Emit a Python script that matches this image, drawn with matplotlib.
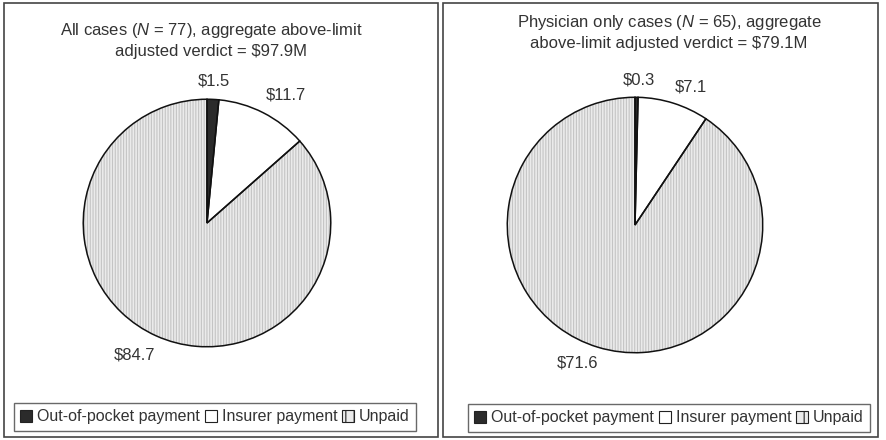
import matplotlib
matplotlib.use("Agg")
import matplotlib.pyplot as plt
from matplotlib.patches import Rectangle, Patch

plt.rcParams["font.family"] = "Liberation Sans"
plt.rcParams["mathtext.fontset"] = "custom"
plt.rcParams["mathtext.rm"] = "Liberation Sans"
plt.rcParams["mathtext.it"] = "Liberation Sans:italic"
plt.rcParams["hatch.linewidth"] = 0.8

categories = ["Out-of-pocket payment", "Insurer payment", "Unpaid"]
all_values = [1.5, 11.7, 84.7]
phys_values = [0.3, 7.1, 71.6]
all_title = "All cases ($\\mathit{N}$ = 77), aggregate above-limit\nadjusted verdict = \\$97.9M"
phys_title = "Physician only cases ($\\mathit{N}$ = 65), aggregate\nabove-limit adjusted verdict = \\$79.1M"

colors = ["#2b2b2b", "#ffffff", "#ebebeb"]
text_color = "#333333"
W, H = 887, 440

fig = plt.figure(figsize=(W / 100, H / 100), dpi=100)


def px(x, y, w, h):
    # pixel box (top-left origin) -> figure fraction
    return [x / W, 1 - (y + h) / H, w / W, h / H]


def draw_panel(x0, x1, cx, cy, r, values, title, title_x, title_y, label_dist,
               nudges, leg_x, leg_y):
    fig.patches.append(Rectangle((x0 / W, 1 - 437 / H), (x1 - x0) / W, 434 / H,
                                 transform=fig.transFigure, fill=False,
                                 edgecolor="#444444", linewidth=1.2))
    ax = fig.add_axes(px(cx - r, cy - r, 2 * r, 2 * r))
    labels = ["$%.1f" % v for v in values]
    wedges, texts = ax.pie(values, colors=colors, startangle=90, counterclock=False,
                           labels=labels, labeldistance=label_dist,
                           wedgeprops=dict(linewidth=0),
                           textprops=dict(fontsize=12, color=text_color,
                                          ha="center", va="center"))
    # small label shifts (pixels) to follow the original's best-fit placement
    for t, (dx, dy) in zip(texts, nudges):
        x, y = t.get_position()
        t.set_position((x + dx / r, y - dy / r))
    wedges[2].set_hatch("||||||")
    wedges[2].set_edgecolor("#c4c4c4")
    ax.pie(values, startangle=90, counterclock=False,
           wedgeprops=dict(fill=False, edgecolor="#111111", linewidth=1.1))
    ax.set_xlim(-1.01, 1.01)
    ax.set_ylim(-1.01, 1.01)
    ax.set_aspect("equal")
    fig.text(title_x / W, 1 - title_y / H, title, ha="center", va="top",
             fontsize=12, color=text_color, linespacing=1.3)
    handles = [Patch(facecolor=colors[0], edgecolor="#222222", linewidth=0.8),
               Patch(facecolor=colors[1], edgecolor="#222222", linewidth=0.8),
               Patch(facecolor=colors[2], edgecolor="#222222", linewidth=0.8, hatch="||")]
    leg = fig.legend(handles, categories, loc="upper left",
                     bbox_to_anchor=(leg_x / W, 1 - leg_y / H), ncol=3,
                     fontsize=11.5, frameon=True, fancybox=False, handlelength=0.75,
                     handleheight=0.75, handletextpad=0.3, columnspacing=0.3,
                     borderpad=0.4, borderaxespad=0)
    leg.get_frame().set_edgecolor("#444444")
    leg.get_frame().set_linewidth(1.0)
    for t in leg.get_texts():
        t.set_color(text_color)


draw_panel(4, 438, 207, 223, 125, all_values, all_title, 211, 21, 1.2,
           [(0, 6), (12, 4), (-12, -3)], 14, 403)
draw_panel(443, 878, 635, 225, 129, phys_values, phys_title, 669, 13, 1.16,
           [(2, 3), (11, 3), (-15, -4)], 468, 404)

fig.savefig("out.png", dpi=100, facecolor="white")
